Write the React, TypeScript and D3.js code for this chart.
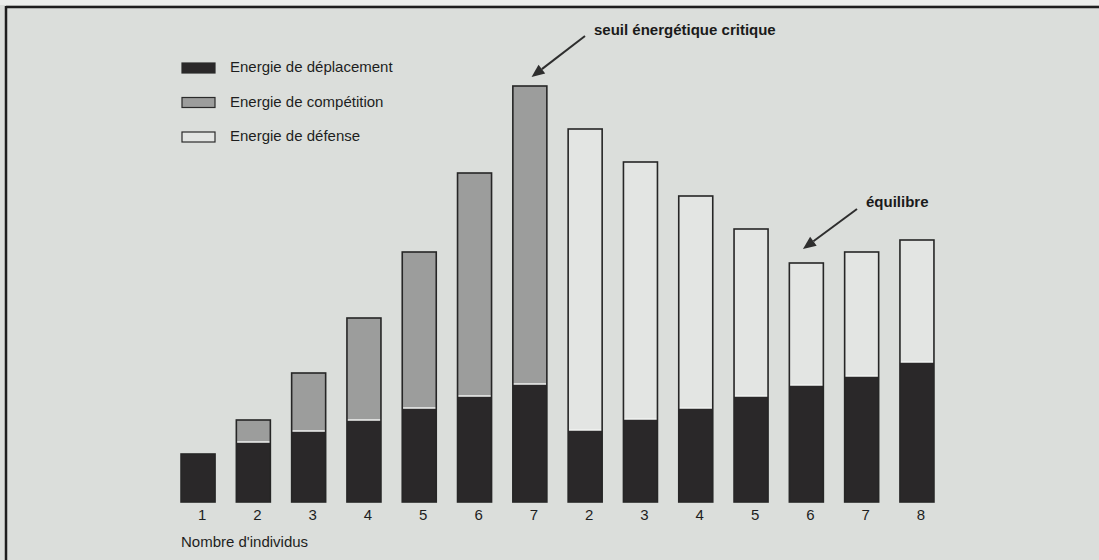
import React from 'react';
import * as d3 from 'd3';

// nombre d'individus sous chaque barre (phase de croissance, puis phase territoriale)
const labelsCroissance = ['1', '2', '3', '4', '5', '6', '7'];
const labelsTerritoire = ['2', '3', '4', '5', '6', '7', '8'];

// énergies (unités arbitraires)
const deplacementCroissance = [48, 60, 71, 82, 94, 106, 118];
const competitionCroissance = [0, 22, 58, 102, 156, 223, 298];
const deplacementTerritoire = [72, 83, 94, 106, 117, 126, 140];
const defenseTerritoire = [301, 257, 212, 167, 122, 124, 122];

const legendLabels = ['Energie de déplacement', 'Energie de compétition', 'Energie de défense'];
const colors = ['#2a2829', '#9c9d9c', '#e3e5e3'];

const W = 1099;
const H = 560;
const FONT = '"Liberation Sans", Arial, Helvetica, sans-serif';

const App = () => {
  const bars = [
    ...labelsCroissance.map((label, i) => ({
      label,
      segs: [deplacementCroissance[i], competitionCroissance[i]],
      kinds: [0, 1],
    })),
    ...labelsTerritoire.map((label, i) => ({
      label,
      segs: [deplacementTerritoire[i], defenseTerritoire[i]],
      kinds: [0, 2],
    })),
  ];

  const x = d3
    .scaleBand<number>()
    .domain(bars.map((_, i) => i))
    .range([170.4, 944.6])
    .paddingInner(0.385)
    .paddingOuter(0.1925);
  const y = d3.scaleLinear().domain([0, 420]).range([502, 82]);
  const bw = x.bandwidth();

  const topOf = (i: number) => y(d3.sum(bars[i].segs));

  // flèches d'annotation
  const critIdx = 6;
  const equiIdx = 11;
  const crit = { x1: 585, y1: 36, x2: x(critIdx)! + bw * 0.55, y2: topOf(critIdx) - 9 };
  const equi = { x1: 857, y1: 209, x2: x(equiIdx)! + bw * 0.4, y2: topOf(equiIdx) - 14 };

  const arrow = (a: { x1: number; y1: number; x2: number; y2: number }, key: string) => {
    const ang = Math.atan2(a.y2 - a.y1, a.x2 - a.x1);
    const len = 13;
    const half = 5.5;
    const bx = a.x2 - len * Math.cos(ang);
    const by = a.y2 - len * Math.sin(ang);
    const px = -Math.sin(ang) * half;
    const py = Math.cos(ang) * half;
    return (
      <g key={key}>
        <line x1={a.x1} y1={a.y1} x2={bx} y2={by} stroke="#2e2e2e" strokeWidth={2} />
        <path
          d={`M${a.x2},${a.y2}L${bx + px},${by + py}L${bx - px},${by - py}Z`}
          fill="#2e2e2e"
        />
      </g>
    );
  };

  return (
    <div style={{ position: 'absolute', left: 0, top: 0 }}>
      <svg width={W} height={H} style={{ display: 'block' }}>
        <rect x={0} y={0} width={W} height={H} fill="#dbdedb" />
        <rect x={0} y={0} width={W} height={5} fill="#eceeec" />
        {/* cadre */}
        <line x1={6} y1={7} x2={W} y2={7} stroke="#1e1e1e" strokeWidth={2.5} />
        <line x1={6} y1={6} x2={6} y2={H} stroke="#1e1e1e" strokeWidth={2.5} />

        {/* légende */}
        {legendLabels.map((t, i) => {
          const ly = 63 + i * 34.5;
          return (
            <g key={t}>
              <rect x={182} y={ly} width={33} height={10} fill={colors[i]} stroke="#2a2a2a" strokeWidth={1.2} />
              <text x={230} y={ly + 9} fontFamily={FONT} fontSize={15} fill="#1e1e1e">
                {t}
              </text>
            </g>
          );
        })}

        {/* barres empilées */}
        {bars.map((b, i) => {
          let acc = 0;
          return (
            <g key={i}>
              {b.segs.map((v, j) => {
                const y0 = y(acc);
                acc += v;
                const y1 = y(acc);
                if (v <= 0) return null;
                return (
                  <rect
                    key={j}
                    x={x(i)}
                    y={y1}
                    width={bw}
                    height={y0 - y1}
                    fill={colors[b.kinds[j]]}
                  />
                );
              })}
              {/* séparation claire entre segments */}
              {b.segs[1] > 0 && (
                <line
                  x1={x(i)!}
                  x2={x(i)! + bw}
                  y1={y(b.segs[0])}
                  y2={y(b.segs[0])}
                  stroke="#f2f3f2"
                  strokeWidth={1.5}
                />
              )}
              <rect
                x={x(i)}
                y={topOf(i)}
                width={bw}
                height={y(0) - topOf(i)}
                fill="none"
                stroke="#262626"
                strokeWidth={1.6}
              />
              <text
                x={x(i)! + bw / 2 + 4}
                y={520}
                textAnchor="middle"
                fontFamily={FONT}
                fontSize={15}
                fill="#1e1e1e"
              >
                {b.label}
              </text>
            </g>
          );
        })}

        <text x={181} y={547} fontFamily={FONT} fontSize={15} fill="#1e1e1e">
          Nombre d'individus
        </text>

        {/* annotations */}
        {arrow(crit, 'crit')}
        <text x={594} y={35} fontFamily={FONT} fontSize={15} fontWeight="bold" fill="#1a1a1a">
          seuil énergétique critique
        </text>
        {arrow(equi, 'equi')}
        <text x={866} y={207} fontFamily={FONT} fontSize={15} fontWeight="bold" fill="#1a1a1a">
          équilibre
        </text>
      </svg>
    </div>
  );
};

export default App;
